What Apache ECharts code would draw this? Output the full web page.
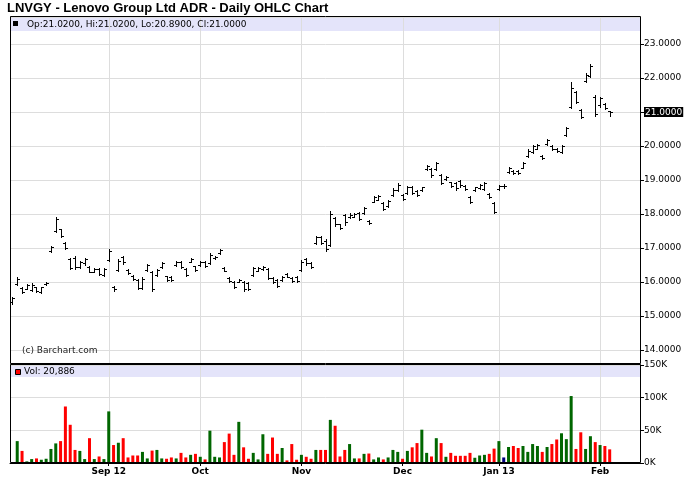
<!DOCTYPE html>
<html><head><meta charset="utf-8">
<script src="https://cdn.jsdelivr.net/npm/echarts@6/dist/echarts.min.js"></script>
<style>html,body{margin:0;padding:0;background:#fff}#c{width:688px;height:503px}</style>
</head><body><div id="c"></div>
<script>
// ---- data ----
const dates = [
'2012-08-06','2012-08-07','2012-08-08','2012-08-09','2012-08-10','2012-08-13','2012-08-14','2012-08-15','2012-08-16','2012-08-17','2012-08-20','2012-08-21','2012-08-22','2012-08-23','2012-08-24','2012-08-27','2012-08-28','2012-08-29','2012-08-30','2012-08-31',
'2012-09-04','2012-09-05','2012-09-06','2012-09-07','2012-09-10','2012-09-11','2012-09-12','2012-09-13','2012-09-14','2012-09-17','2012-09-18','2012-09-19','2012-09-20','2012-09-21','2012-09-24','2012-09-25','2012-09-26','2012-09-27','2012-09-28',
'2012-10-01','2012-10-02','2012-10-03','2012-10-04','2012-10-05','2012-10-08','2012-10-09','2012-10-10','2012-10-11','2012-10-12','2012-10-15','2012-10-16','2012-10-17','2012-10-18','2012-10-19','2012-10-22','2012-10-23','2012-10-24','2012-10-25','2012-10-26','2012-10-31',
'2012-11-01','2012-11-02','2012-11-05','2012-11-06','2012-11-07','2012-11-08','2012-11-09','2012-11-12','2012-11-13','2012-11-14','2012-11-15','2012-11-16','2012-11-19','2012-11-20','2012-11-21','2012-11-23','2012-11-26','2012-11-27','2012-11-28','2012-11-29','2012-11-30',
'2012-12-03','2012-12-04','2012-12-05','2012-12-06','2012-12-07','2012-12-10','2012-12-11','2012-12-12','2012-12-13','2012-12-14','2012-12-17','2012-12-18','2012-12-19','2012-12-20','2012-12-21','2012-12-24','2012-12-26','2012-12-27','2012-12-28','2012-12-31',
'2013-01-02','2013-01-03','2013-01-04','2013-01-07','2013-01-08','2013-01-09','2013-01-10','2013-01-11','2013-01-14','2013-01-15','2013-01-16','2013-01-17','2013-01-18','2013-01-22','2013-01-23','2013-01-24','2013-01-25','2013-01-28','2013-01-29','2013-01-30','2013-01-31',
'2013-02-01','2013-02-04','2013-02-05'
];
// empty future sessions on the right of the chart
const padDates = ['2013-02-06','2013-02-07','2013-02-08','2013-02-11','2013-02-12','2013-02-13'];

const opens = [
15.40,15.95,15.82,15.80,15.76,15.84,15.72,15.93,16.90,17.50,17.55,17.15,16.68,16.70,16.45,16.55,16.45,16.30,16.38,16.22,
16.65,15.86,16.36,16.75,16.36,16.18,16.05,15.82,16.36,16.30,16.22,16.44,16.17,16.16,16.50,16.60,16.38,16.60,16.46,
16.50,16.60,16.56,16.70,16.84,16.41,16.12,16.00,16.00,16.00,15.96,16.22,16.33,16.37,16.38,16.12,16.05,16.06,16.24,16.12,16.16,
16.36,16.68,16.55,17.15,17.33,17.22,17.10,17.88,17.70,17.96,17.90,17.92,18.02,18.02,17.80,18.36,18.42,18.31,18.23,18.56,18.71,
18.57,18.62,18.80,18.68,18.70,19.31,19.31,19.31,19.15,19.02,18.93,18.92,18.97,18.83,18.50,18.70,18.75,18.74,18.58,18.32,
18.73,18.82,19.23,19.27,19.26,19.36,19.70,19.82,19.92,19.72,20.05,20.00,19.91,19.83,20.32,21.15,21.60,21.05,21.92,22.05,21.45,
21.20,21.25,21.02
];
const highs = [
15.57,16.14,15.84,15.94,15.96,15.86,15.86,15.99,17.07,17.90,17.57,17.17,16.71,16.77,16.63,16.71,16.48,16.41,16.41,16.41,
16.97,15.89,16.68,16.77,16.38,16.20,16.09,16.14,16.53,16.33,16.38,16.58,16.19,16.19,16.61,16.63,16.41,16.71,16.48,
16.63,16.63,16.84,16.77,16.97,16.43,16.14,16.04,16.09,16.04,15.99,16.43,16.43,16.48,16.41,16.14,16.09,16.19,16.26,16.14,16.19,
16.65,16.71,16.58,17.36,17.36,17.26,18.08,17.92,17.72,18.00,18.02,18.02,18.05,18.21,17.82,18.54,18.57,18.34,18.41,18.76,18.90,
18.60,18.83,18.83,18.70,18.80,19.44,19.34,19.54,19.18,19.12,18.95,18.95,19.00,18.85,18.53,18.80,18.88,18.95,18.61,18.36,
18.85,18.88,19.39,19.29,19.28,19.54,19.90,20.03,20.06,19.74,20.20,20.03,19.93,20.03,20.57,21.89,21.63,21.08,22.14,22.41,21.50,
21.45,21.27,21.02
];
const lows = [
15.35,15.92,15.69,15.79,15.74,15.72,15.69,15.92,16.87,17.46,17.31,16.97,16.38,16.38,16.41,16.51,16.28,16.28,16.22,16.18,
16.63,15.74,16.33,16.53,16.24,16.06,15.79,15.79,16.33,15.74,16.19,16.41,16.04,16.04,16.48,16.41,16.19,16.58,16.33,
16.48,16.45,16.53,16.68,16.82,16.31,15.99,15.82,15.99,15.74,15.76,16.19,16.31,16.35,16.09,15.96,15.84,16.04,16.14,15.99,15.99,
16.33,16.51,16.41,17.12,17.12,16.92,17.07,17.66,17.56,17.69,17.88,17.90,17.82,18.00,17.72,18.34,18.40,18.12,18.21,18.54,18.69,
18.41,18.59,18.59,18.54,18.69,19.29,19.10,19.29,18.88,19.00,18.80,18.71,18.80,18.71,18.31,18.69,18.73,18.71,18.46,18.02,
18.71,18.76,19.21,19.18,19.18,19.34,19.67,19.79,19.90,19.61,20.03,19.88,19.83,19.80,20.29,21.11,21.26,20.81,21.89,22.02,20.88,
21.16,21.10,20.89
];
const closes = [
15.52,16.10,15.72,15.90,15.92,15.75,15.84,15.98,17.02,17.85,17.35,17.00,16.42,16.45,16.60,16.68,16.30,16.38,16.25,16.38,
16.90,15.78,16.62,16.58,16.27,16.08,15.82,16.10,16.50,15.80,16.35,16.55,16.07,16.06,16.58,16.45,16.22,16.68,16.36,
16.60,16.48,16.80,16.75,16.94,16.33,16.02,15.85,16.07,15.78,15.80,16.40,16.40,16.45,16.12,15.99,15.88,16.16,16.16,16.02,16.03,
16.60,16.55,16.44,17.32,17.16,16.96,18.00,17.70,17.60,17.75,17.98,17.99,17.86,18.18,17.74,18.50,18.54,18.15,18.38,18.72,18.86,
18.44,18.80,18.62,18.57,18.78,19.40,19.14,19.50,18.92,19.10,18.83,18.75,18.84,18.74,18.35,18.78,18.85,18.92,18.49,18.06,
18.82,18.82,19.36,19.20,19.20,19.50,19.86,20.00,20.03,19.64,20.17,19.91,19.85,20.00,20.52,21.70,21.30,20.85,22.10,22.35,20.95,
21.40,21.13,21.00
];
const volumes = [
null,33500,18500,2500,6000,7000,5000,6500,21500,30000,33500,86500,58500,20000,18500,6000,38000,6000,10000,6000,
79000,27500,31000,38000,8500,11500,11500,17000,7000,19000,20000,7000,6500,8500,7000,15500,8500,12500,14000,
9500,5500,49500,9500,8500,32000,45000,12500,63000,24000,6500,15500,5500,44000,14000,39000,14000,23000,4000,29000,5000,
12500,9500,6500,20000,20000,20000,66000,57000,10000,20000,29000,7000,7000,14000,14500,5500,8500,5500,8500,20000,17000,
6500,18500,24000,30500,51000,15500,10000,38000,30500,9500,15500,11000,11000,11000,15500,8000,11500,12500,14000,22000,
33500,8500,24500,26000,23000,26000,17000,29000,26000,17000,24500,29000,36000,45500,36500,102500,21500,47000,21500,41000,32000,
27500,26000,20886
];
const tickDates  = ['2012-09-04','2012-10-01','2012-11-01','2012-12-03','2013-01-02','2013-02-01'];
const tickLabels = ['Sep 12','Oct','Nov','Dec','Jan 13','Feb'];
const priceTicks = [14,15,16,17,18,19,20,21,22,23];
const volTicks = [0,50000,100000,150000];

// ---- chart ----
const chart = echarts.init(document.getElementById('c'), null, {renderer: 'canvas'});
const N = dates.length;
const last = N - 1;
const cats = dates.concat(padDates);
const tickIdx = tickDates.map(d => dates.indexOf(d));
const lastClose = closes[last];
const SMALL = 'DejaVu Sans, Verdana, sans-serif';
const UP = '#006600', DOWN = '#ff0000', FLAT = '#000080';
const fmt4 = v => v.toFixed(4);
const isTick = (idx, val) => tickDates.indexOf(val) >= 0;

// plot frame (pixels)
const L = 10, W = 631, mainTop = 17, mainH = 347, volTop = 365, volH = 98;
// price scale: 34 px per unit, 23 at y=44
const pxPerUnit = 34;
const pMax = priceTicks[priceTicks.length - 1] + (44 - mainTop) / pxPerUnit;
const pMin = pMax - mainH / pxPerUnit;

const ohlcData = dates.map((d, i) => [i, opens[i], highs[i], lows[i], closes[i]]);
const gridData = tickIdx.map(i => [i, 0]);

function renderOHLC(params, api) {
  const i = api.value(0);
  const po = api.coord([i, api.value(1)]);
  const ph = api.coord([i, api.value(2)]);
  const pl = api.coord([i, api.value(3)]);
  const pc = api.coord([i, api.value(4)]);
  const x = Math.round(po[0]) + 0.5;
  const yo = Math.round(po[1]) + 0.5, yc = Math.round(pc[1]) + 0.5;
  const style = {stroke: '#000', lineWidth: 1, fill: null};
  return {type: 'group', children: [
    {type: 'line', shape: {x1: x, y1: Math.round(ph[1]), x2: x, y2: Math.round(pl[1]) + 1}, style: style},
    {type: 'line', shape: {x1: x - 2.5, y1: yo, x2: x, y2: yo}, style: style},
    {type: 'line', shape: {x1: x, y1: yc, x2: x + 2.5, y2: yc}, style: style}
  ]};
}
function renderVGrid(params, api) {
  const x = Math.round(api.coord([api.value(0), api.value(1)])[0]) + 0.5;
  const cs = params.coordSys;
  return {type: 'line', shape: {x1: x, y1: cs.y, x2: x, y2: cs.y + cs.height},
          style: {stroke: '#dddddd', lineWidth: 1}};
}

const header = 'Op:' + fmt4(opens[last]) + ', Hi:' + fmt4(highs[last]) +
               ', Lo:' + fmt4(lows[last]) + ', Cl:' + fmt4(closes[last]);
const volHeader = 'Vol: ' + volumes[last].toLocaleString('en-US');

const option = {
  animation: false,
  backgroundColor: '#fff',
  title: {
    text: 'LNVGY - Lenovo Group Ltd ADR - Daily OHLC Chart',
    left: 7, top: 2, padding: 0,
    textStyle: {fontFamily: 'Liberation Sans, Arial, sans-serif', fontWeight: 'bold', fontSize: 13, color: '#000'}
  },
  grid: [
    {left: L, top: mainTop, width: W, height: mainH, show: false},
    {left: L, top: volTop, width: W, height: volH, show: false}
  ],
  xAxis: [
    {type: 'category', gridIndex: 0, data: cats, boundaryGap: true,
     axisLine: {show: false}, axisTick: {show: false}, axisLabel: {show: false}, splitLine: {show: false}},
    {type: 'category', gridIndex: 1, data: cats, boundaryGap: true,
     axisLine: {show: true, lineStyle: {color: '#000', width: 1}},
     axisTick: {show: true, alignWithLabel: true, interval: isTick, length: 3, lineStyle: {color: '#000'}},
     axisLabel: {show: true, interval: isTick, margin: 4,
       formatter: v => { const k = tickDates.indexOf(v); return k >= 0 ? tickLabels[k] : ''; },
       fontFamily: SMALL, fontWeight: 'bold', fontSize: 9, color: '#000'},
     splitLine: {show: false}}
  ],
  yAxis: [
    {type: 'value', gridIndex: 0, position: 'right', min: pMin, max: pMax, splitNumber: 10, scale: true,
     axisLine: {show: false},
     axisTick: {show: true, length: 3, lineStyle: {color: '#000'}},
     splitLine: {show: true, lineStyle: {color: '#dddddd', width: 1}},
     axisLabel: {show: true, margin: 3, showMinLabel: false, showMaxLabel: false,
       fontFamily: SMALL, fontSize: 9, color: '#000',
       formatter: v => Math.abs(v - lastClose) < 1e-6 ? '{hl|' + fmt4(v) + '}' : fmt4(v),
       rich: {hl: {backgroundColor: '#000', color: '#fff', fontFamily: SMALL, fontSize: 9, padding: [1, 1, 0, 1]}}}},
    {type: 'value', gridIndex: 1, position: 'right', min: volTicks[0], max: volTicks[volTicks.length - 1], interval: volTicks[1] - volTicks[0],
     axisLine: {show: false},
     axisTick: {show: true, length: 3, lineStyle: {color: '#000'}},
     splitLine: {show: true, lineStyle: {color: '#dddddd', width: 1}},
     axisLabel: {show: true, margin: 3, fontFamily: SMALL, fontSize: 9, color: '#000',
       formatter: v => (v / 1000) + 'K'}}
  ],
  series: [
    {type: 'custom', name: 'vgrid0', xAxisIndex: 0, yAxisIndex: 0, z: 1, silent: true,
     renderItem: renderVGrid, data: gridData, encode: {x: 0, y: 1}},
    {type: 'custom', name: 'vgrid1', xAxisIndex: 1, yAxisIndex: 1, z: 1, silent: true,
     renderItem: renderVGrid, data: gridData, encode: {x: 0, y: 1}},
    {type: 'custom', name: 'OHLC', xAxisIndex: 0, yAxisIndex: 0, z: 3,
     renderItem: renderOHLC, data: ohlcData, encode: {x: 0, y: [1, 2, 3, 4]}},
    {type: 'bar', name: 'Volume', xAxisIndex: 1, yAxisIndex: 1, z: 3, barWidth: 3,
     data: volumes,
     itemStyle: {color: p => {
       const i = p.dataIndex;
       return closes[i] > opens[i] ? UP : (closes[i] < opens[i] ? DOWN : FLAT);
     }}}
  ],
  graphic: [
    {type: 'rect', z: -1, silent: true, shape: {x: L + 1, y: mainTop, width: W - 1, height: 14}, style: {fill: '#e4e4fa'}},
    {type: 'rect', z: -1, silent: true, shape: {x: L + 1, y: volTop + 1, width: W - 1, height: 11}, style: {fill: '#e4e4fa'}},
    {type: 'rect', z: 10, silent: true, shape: {x: L + 0.5, y: mainTop - 0.5, width: W - 1, height: mainH}, style: {fill: null, stroke: '#000', lineWidth: 1}},
    {type: 'rect', z: 10, silent: true, shape: {x: L + 0.5, y: volTop - 0.5, width: W - 1, height: volH}, style: {fill: null, stroke: '#000', lineWidth: 1}},
    {type: 'rect', z: 11, silent: true, shape: {x: 13, y: 21, width: 5, height: 5}, style: {fill: '#000'}},
    {type: 'text', z: 11, silent: true, x: 27, y: 24.5, style: {text: header, font: '9px ' + SMALL, fill: '#000', textVerticalAlign: 'middle', verticalAlign: 'middle'}},
    {type: 'rect', z: 11, silent: true, shape: {x: 15.5, y: 369.5, width: 5, height: 5}, style: {fill: '#ff0000', stroke: '#000', lineWidth: 1}},
    {type: 'text', z: 11, silent: true, x: 24, y: 372, style: {text: volHeader, font: '9px ' + SMALL, fill: '#000', textVerticalAlign: 'middle', verticalAlign: 'middle'}},
    {type: 'text', z: 11, silent: true, x: 22, y: 351, style: {text: '(c) Barchart.com', font: '9px ' + SMALL, fill: '#222', textVerticalAlign: 'middle', verticalAlign: 'middle'}}
  ]
};
chart.setOption(option);
</script>
</body></html>
